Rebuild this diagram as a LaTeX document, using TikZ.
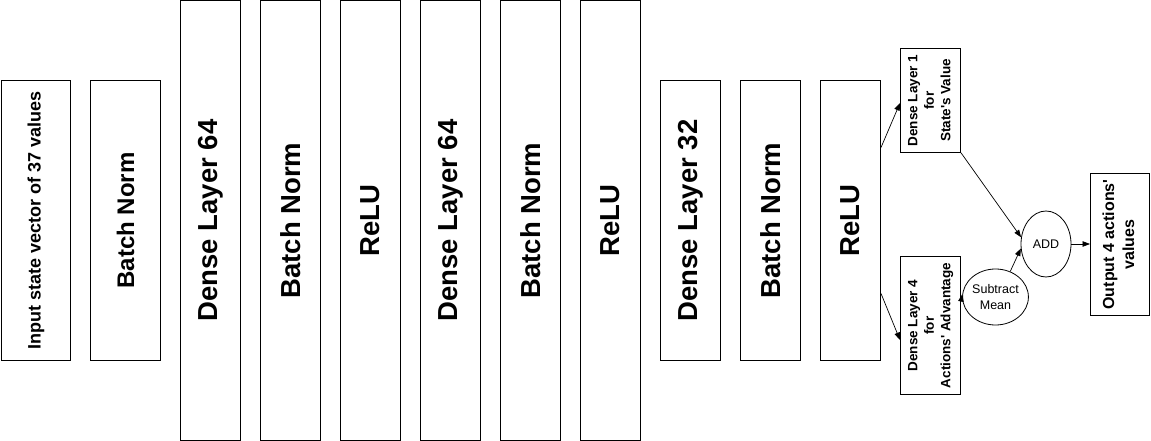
\documentclass[tikz,border=0pt]{standalone}
\usepackage{fontspec}
\setmainfont{Liberation Sans}
\usepackage{graphicx}
\usetikzlibrary{arrows.meta,shapes.geometric}

\begin{document}
\begin{tikzpicture}[
  x=1pt,
  y=-1pt,
  layer/.style={draw, line width=1pt, inner sep=0pt, minimum width=60pt,
    font=\fontsize{27.5}{32}\selectfont\bfseries},
  tall/.style={layer, minimum height=440pt},
  short/.style={layer, minimum height=280pt},
  head/.style={draw, line width=1pt, inner sep=0pt, minimum width=60pt,
    font=\fontsize{13.5}{16.5}\selectfont\bfseries},
  op/.style={draw, ellipse, line width=0.8pt, inner sep=0pt, align=center,
    font=\fontsize{12.5}{16}\selectfont},
  conn/.style={line width=0.7pt, -{Triangle[length=7.5pt, width=5.5pt]}}
]
  \useasboundingbox (0,0) rectangle (1151,441);

  % trunk
  \node[short, minimum width=69pt, font=\fontsize{18}{22}\selectfont\bfseries] (input) at (36,220.5)
    {\rotatebox{90}{Input state vector of 37 values}};
  \node[short, minimum width=70pt, font=\fontsize{24}{28}\selectfont\bfseries] (bn1) at (125.5,220.5)
    {\rotatebox{90}{Batch Norm}};
  \node[tall] (dense1) at (210.5,220.5) {\rotatebox{90}{Dense Layer 64}};
  \node[tall] (bn2) at (290.5,220.5) {\rotatebox{90}{Batch Norm}};
  \node[tall] (relu1) at (370.5,220.5) {\rotatebox{90}{ReLU}};
  \node[tall] (dense2) at (450.5,220.5) {\rotatebox{90}{Dense Layer 64}};
  \node[tall] (bn3) at (530.5,220.5) {\rotatebox{90}{Batch Norm}};
  \node[tall] (relu2) at (610.5,220.5) {\rotatebox{90}{ReLU}};
  \node[short] (dense3) at (690.5,220.5) {\rotatebox{90}{Dense Layer 32}};
  \node[short] (bn4) at (770.5,220.5) {\rotatebox{90}{Batch Norm}};
  \node[short] (relu3) at (850.5,220.5) {\rotatebox{90}{ReLU}};

  % dueling heads
  \node[head, minimum height=100pt] (value) at (930.5,100.5)
    {\rotatebox{90}{\begin{tabular}{c}Dense Layer 1\\for\\State\textquotesingle s Value\end{tabular}}};
  \node[head, minimum height=130pt] (adv) at (930.5,325.5)
    {\rotatebox{90}{\begin{tabular}{c}Dense Layer 4\\for\\Actions\textquotesingle{} Advantage\end{tabular}}};

  \node[op, minimum width=51pt, minimum height=56pt] (sub) at (995.5,297) {Subtract\\Mean};
  \node[op, minimum width=50pt, minimum height=66pt] (add) at (1046,244) {ADD};

  \node[draw, line width=1pt, inner sep=0pt, minimum width=59pt, minimum height=140pt,
    font=\fontsize{16}{20}\selectfont\bfseries] (out) at (1120,244.5)
    {\rotatebox{90}{\begin{tabular}{c}Output 4 actions\textquotesingle\\values\end{tabular}}};

  \draw[conn] ([yshift=-67.5pt]relu3.north east) -- ([yshift=-2.5pt]value.west);
  \draw[conn] ([yshift=67.5pt]relu3.south east) -- ([yshift=-14.5pt]adv.west);
  \draw[conn] (value.south east) -- (add.165);
  \draw[conn] ([yshift=24.5pt]adv.east) -- (sub.175);
  \draw[conn] (sub.60) -- (add.190);
  \draw[conn] (add.east) -- (add.east -| out.west);
\end{tikzpicture}
\end{document}
